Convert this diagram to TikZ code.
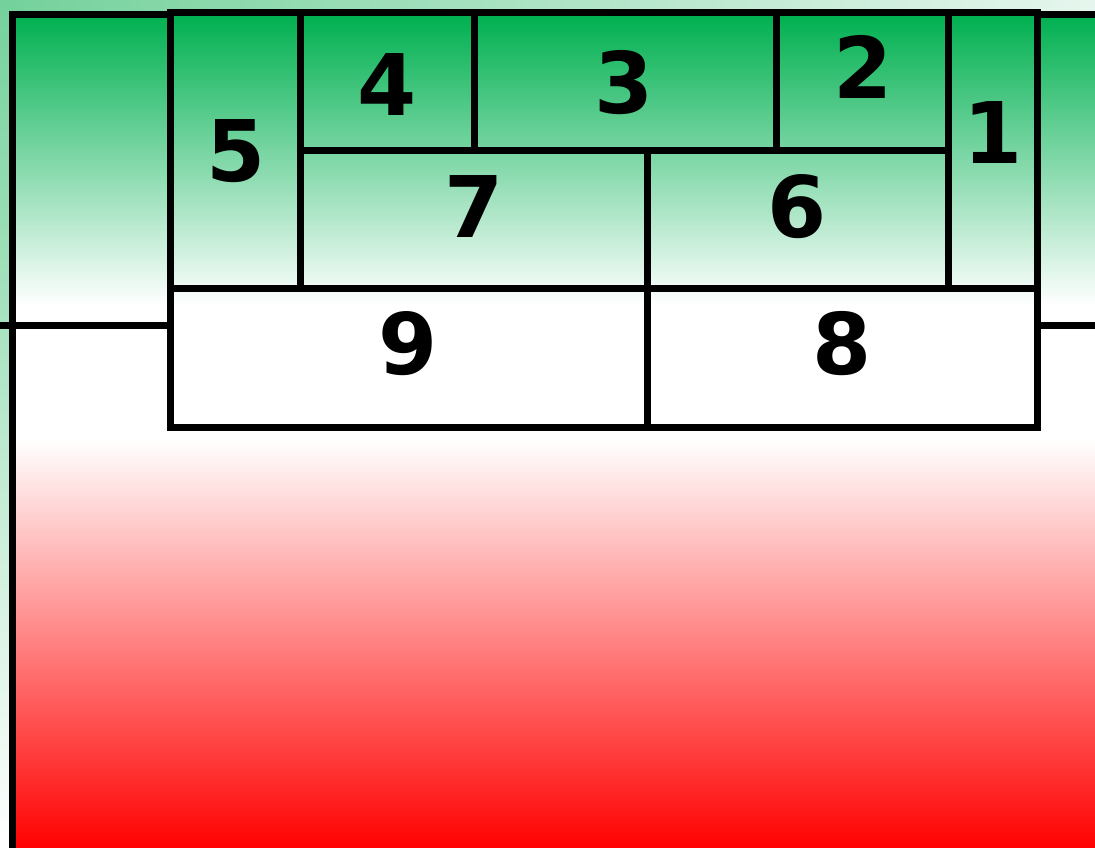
\documentclass[tikz,border=0pt]{standalone}
\usepackage{fontspec}
\setmainfont{DejaVu Sans}
\begin{document}
\begin{tikzpicture}[x=1pt,y=-1pt,
  cell/.style={draw=black, line width=7pt, rectangle, inner sep=0pt, outer sep=0pt, anchor=north west},
  lbl/.style={inner sep=0pt, anchor=base, font=\fontsize{85}{85}\selectfont\bfseries},
  frame/.style={draw=black, line width=7pt}]
\definecolor{pgreen}{HTML}{00B050}
\definecolor{outgreen}{HTML}{74D19B}
\definecolor{outlight}{HTML}{E6F6EE}
\useasboundingbox (0,0) rectangle (1095,848);
\clip (0,0) rectangle (1095,848);
\fill[white] (0,0) rectangle (1095,848);
% outer background strips
\shade[left color=outgreen, right color=outlight] (0,0) rectangle (1095,14);
\shade[top color=outgreen, bottom color=white] (0,0) rectangle (14,848);
% green band
\shade[top color=pgreen, bottom color=white] (12,14.5) rectangle (1100,305);
\fill[white] (12,304) rectangle (1100,325);
% red band
\fill[white] (12,325) rectangle (1100,441);
\shade[top color=white, bottom color=red] (12,440) rectangle (1100,850);
% cells
\node[cell, minimum width=130.5pt, minimum height=275.5pt] (c5) at (170,13) {};
\node[cell, minimum width=173.5pt, minimum height=138pt] (c4) at (300.5,13) {};
\node[cell, minimum width=302pt, minimum height=138pt] (c3) at (474,13) {};
\node[cell, minimum width=172pt, minimum height=138pt] (c2) at (776,13) {};
\node[cell, minimum width=89.5pt, minimum height=275.5pt] (c1) at (948,13) {};
\node[cell, minimum width=346.5pt, minimum height=137.5pt] (c7) at (300.5,151) {};
\node[cell, minimum width=301pt, minimum height=137.5pt] (c6) at (647,151) {};
\node[cell, minimum width=477pt, minimum height=138.5pt] (c9) at (170,288.5) {};
\node[cell, minimum width=390.5pt, minimum height=138.5pt] (c8) at (647,288.5) {};
% labels
\node[lbl] (l5) at (236,181) {5};
\node[lbl] (l4) at (387,116) {4};
\node[lbl] (l3) at (624,114) {3};
\node[lbl] (l2) at (863,99) {2};
\node[lbl] (l1) at (993,164) {1};
\node[lbl] (l7) at (474,237) {7};
\node[lbl] (l6) at (797,237) {6};
\node[lbl] (l9) at (408,374) {9};
\node[lbl] (l8) at (842,374) {8};
% frame lines
\coordinate (fbl) at (12,860);
\coordinate (ftl) at (12,14.5);
\coordinate (ftr) at (1100,14.5);
\draw[frame] (fbl) -- (ftl) -- (c5.north west |- ftl);
\draw[frame] (c1.north east |- ftr) -- (ftr);
\coordinate (hl) at (0,325);
\coordinate (hr) at (1100,325);
\draw[frame] (hl) -- (hl -| c9.west);
\draw[frame] (hr -| c8.east) -- (hr);
\end{tikzpicture}
\end{document}
